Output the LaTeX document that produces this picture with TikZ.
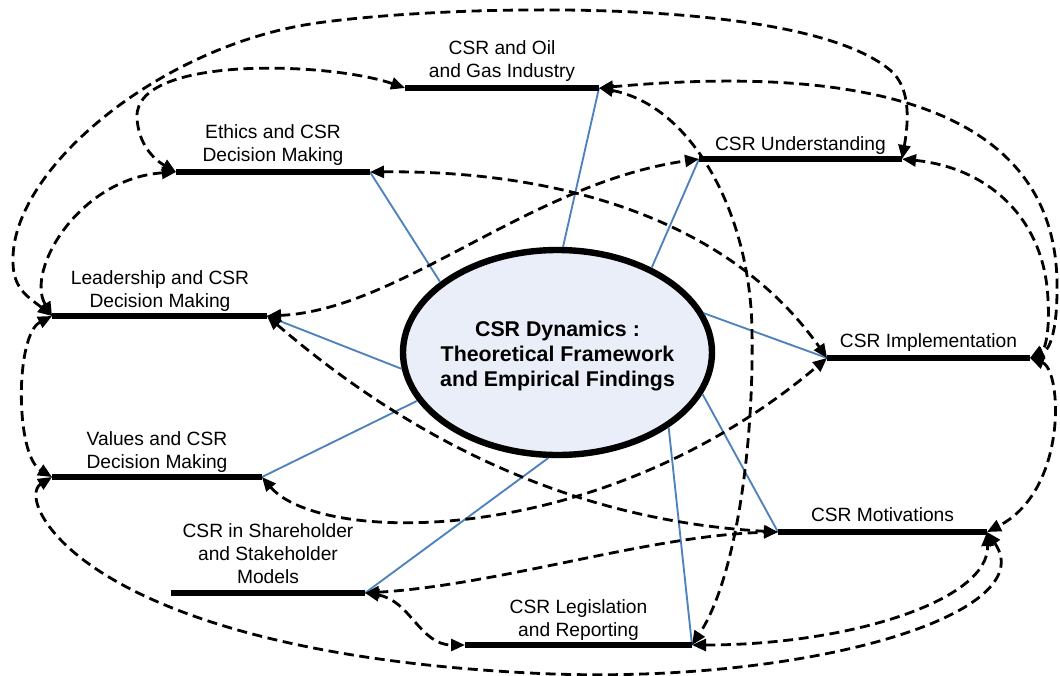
\documentclass[tikz,border=0pt]{standalone}
\usepackage{fontspec}
\setmainfont{Liberation Sans}
\usetikzlibrary{arrows.meta,shapes.geometric}
\definecolor{spokeblue}{RGB}{79,129,189}
\definecolor{hubfill}{RGB}{233,238,248}
\begin{document}
\begin{tikzpicture}[x=0.75pt,y=-0.75pt,
	bar/.style={line width=4.5pt},
	spoke/.style={spokeblue, line width=1.4pt},
	link/.style={line width=2.1pt, dash pattern=on 7.5pt off 4.2pt,
		{Triangle[length=10.5pt,width=9pt]}-{Triangle[length=10.5pt,width=9pt]}},
	lbl/.style={anchor=base, inner sep=0pt, align=center,
		font=\fontsize{14.4pt}{17.25pt}\selectfont},
	hub/.style={ellipse, draw, line width=4.8pt, fill=hubfill, inner sep=0pt,
		minimum width=231.75pt, minimum height=153.75pt}]
	\useasboundingbox (0,0) rectangle (1060,675);
	% ends of the topic bars
	\coordinate (oilL) at (405,88);    \coordinate (oilR) at (599,88);
	\coordinate (ethL) at (176,172);   \coordinate (ethR) at (370,172);
	\coordinate (undL) at (699,159);   \coordinate (undR) at (902,159);
	\coordinate (leadL) at (52,316);   \coordinate (leadR) at (267,316);
	\coordinate (implL) at (827,358);  \coordinate (implR) at (1030,358);
	\coordinate (valL) at (52,477);    \coordinate (valR) at (262,477);
	\coordinate (motL) at (778,532);   \coordinate (motR) at (987,532);
	\coordinate (shL) at (171,593);    \coordinate (shR) at (365,593);
	\coordinate (legL) at (465,645);   \coordinate (legR) at (692,645);

	% central theme
	\node[hub] (core) at (557.5,352.5) {};
	\node[font=\bfseries\fontsize{16pt}{18.75pt}\selectfont, align=center, inner sep=0pt] (coreT) at (557.5,356.5)
		{CSR Dynamics :\\Theoretical Framework\\and Empirical Findings};

	% spokes
	\draw[spoke] (oilR) -- (core.87.5);
	\draw[spoke] (ethR) -- (core.149.8);
	\draw[spoke] (undL) -- (core.42.8);
	\draw[spoke] (leadR) -- (core.186.6);
	\draw[spoke] (implL) -- (core.15.4);
	\draw[spoke] (valR) -- (core.199.1);
	\draw[spoke] (motL) -- (core.344.5);
	\draw[spoke] (shR) -- (core.265.4);
	\draw[spoke] (legR) -- (core.326.9);

	% dashed links between topics
	\draw[link] (leadL) .. controls (30,298) and (13,290) .. (13,262)
		.. controls (10,170) and (160,45) .. (317,23)
		.. controls (450,4.4) and (800,-5) .. (890,70)
		.. controls (912,88) and (908,125) .. (undR);
	\draw[link] (oilL) .. controls (330,62) and (135,55) .. (137,117)
		.. controls (138,145) and (155,160) .. (ethL);
	\draw[link] (ethL) .. controls (80,178) and (25,270) .. (leadL);
	\draw[link] (leadL) .. controls (15,335) and (15,455) .. (valL);
	\draw[link] (valL) .. controls (15,500) and (80,650) .. (530,673)
		.. controls (800,687) and (1045,615) .. (motR);
	\draw[link] (leadR) .. controls (400,310) and (530,183) .. (undL);
	\draw[link] (ethR) .. controls (560,170) and (730,220) .. (implL);
	\draw[link] (leadR) .. controls (400,430) and (560,520) .. (motL);
	\draw[link] (valR) .. controls (320,545) and (600,550) .. (implL);
	\draw[link] (shR) .. controls (500,585) and (650,535) .. (motL);
	\draw[link] (shR) .. controls (410,600) and (420,645) .. (legL);
	\draw[link] (oilR) .. controls (690,105) and (750,210) .. (752,330)
		.. controls (754,450) and (735,580) .. (legR);
	\draw[link] (oilR) .. controls (850,65) and (1060,100) .. (1057,290)
		.. controls (1057,330) and (1050,350) .. (implR);
	\draw[link] (undR) .. controls (990,168) and (1045,220) .. (1048,300)
		.. controls (1050,330) and (1045,350) .. (implR);
	\draw[link] (implR) .. controls (1062,370) and (1068,490) .. (motR);
	\draw[link] (legR) .. controls (850,645) and (990,600) .. (motR);

	% topic bars
	\foreach \k in {oil,eth,und,lead,impl,val,mot,sh,leg}
		\draw[bar] (\k L) -- (\k R);

	% topic labels
	\node[lbl] (oilT) at (502,77) {CSR and Oil\\and Gas Industry};
	\node[lbl] (ethT) at (273,161) {Ethics and CSR\\Decision Making};
	\node[lbl] (undT) at (800.5,150) {CSR Understanding};
	\node[lbl] (leadT) at (160,307) {Leadership and CSR\\Decision Making};
	\node[lbl] (implT) at (928.5,347) {CSR Implementation};
	\node[lbl] (valT) at (157,468) {Values and CSR\\Decision Making};
	\node[lbl] (motT) at (882.5,521) {CSR Motivations};
	\node[lbl] (shT) at (268,583) {CSR in Shareholder\\and Stakeholder\\Models};
	\node[lbl] (legT) at (578.5,636) {CSR Legislation\\and Reporting};
\end{tikzpicture}
\end{document}
